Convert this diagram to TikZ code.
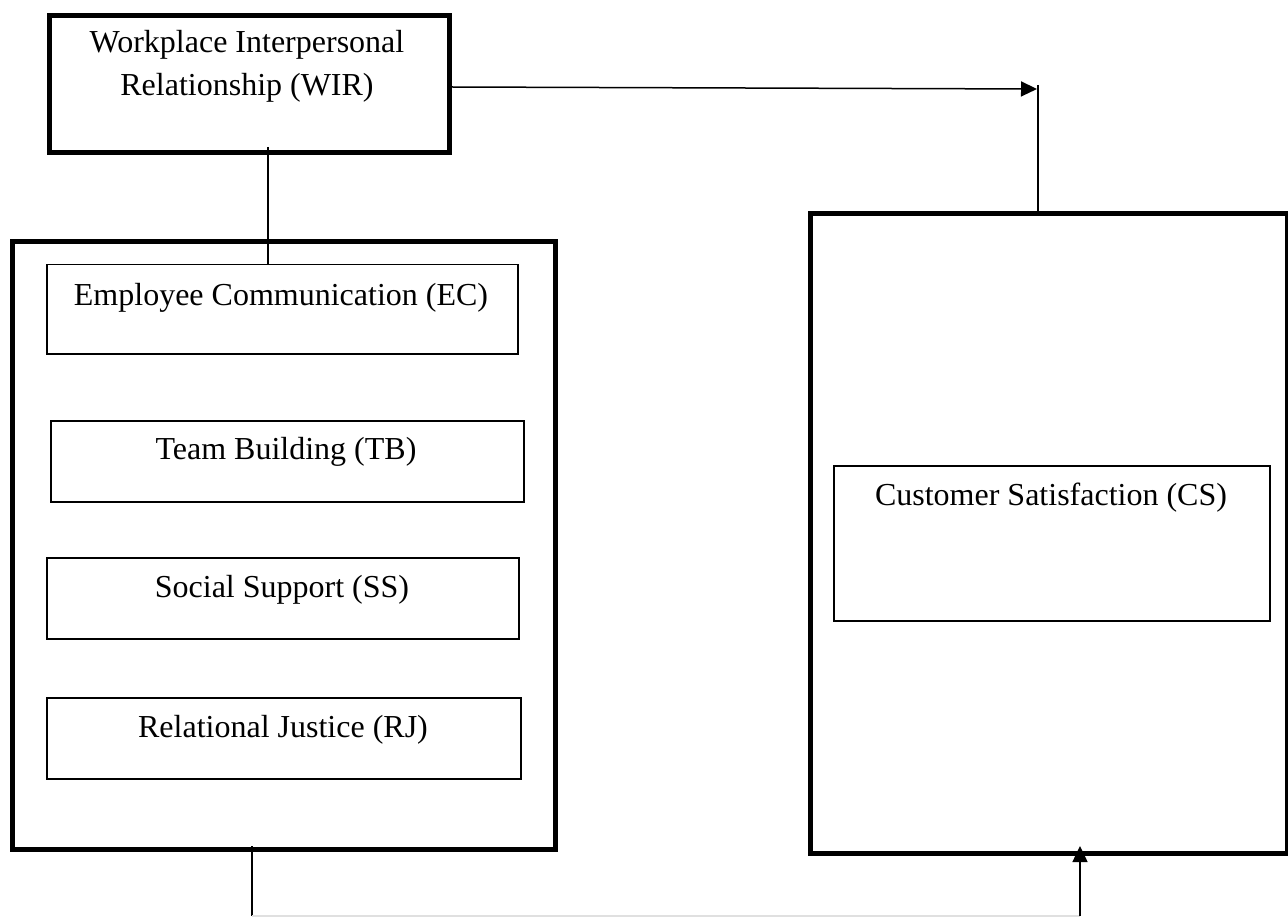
\documentclass[tikz,border=0pt]{standalone}
\usepackage{fontspec}
\setmainfont{Liberation Serif}
\usetikzlibrary{arrows.meta}
\begin{document}
\begin{tikzpicture}[x=1pt,y=-1pt,
  thickbox/.style={draw,line width=5pt,rectangle,inner sep=0pt,anchor=north west},
  thinbox/.style={draw,line width=1.5pt,rectangle,inner sep=0pt,anchor=north west},
  txt/.style={inner sep=0pt,font=\fontsize{32}{43}\selectfont,align=center},
  conn/.style={line width=1.5pt},
  arr/.style={line width=1.5pt,-{Triangle[length=16pt,width=15pt]}}]
\useasboundingbox (0,0) rectangle (1288,917);
% top box
\node[thickbox,minimum width=400pt,minimum height=137pt] (wir) at (47,13) {};
\node[txt] (wirt) at (247,66) {Workplace Interpersonal\\Relationship (WIR)};
% left big box
\node[thickbox,minimum width=543pt,minimum height=608pt] (left) at (10,239) {};
\node[thinbox,minimum width=471pt,minimum height=89pt] (ec) at (46,264) {};
\node[txt] (ect) at (281,298) {Employee Communication (EC)};
\node[thinbox,minimum width=473pt,minimum height=81pt] (tb) at (50,420) {};
\node[txt] (tbt) at (286,452) {Team Building (TB)};
\node[thinbox,minimum width=472pt,minimum height=81pt] (ss) at (46,557) {};
\node[txt] (sst) at (282,590) {Social Support (SS)};
\node[thinbox,minimum width=474pt,minimum height=81pt] (rj) at (46,697) {};
\node[txt] (rjt) at (283,730) {Relational Justice (RJ)};
% right big box
\node[thickbox,minimum width=477pt,minimum height=640pt] (cs) at (808,211) {};
\node[thinbox,minimum width=436pt,minimum height=155pt] (csi) at (833,465) {};
\node[txt] (csit) at (1051,498) {Customer Satisfaction (CS)};
% junction coordinates
\coordinate (wirout) at ([yshift=-3pt]wir.east);
\coordinate (jtop) at (1038,85);
\coordinate (jtip) at (1037,89);
\coordinate (cstop) at (1038,213);
\coordinate (wirdown) at (268,147);
\coordinate (ecin) at (268,264);
\coordinate (lbot) at (252,846);
\coordinate (lend) at (252,916);
\coordinate (rstart) at (1080,916);
\coordinate (csbot) at (1080,846);
% connectors
\draw[arr] (wirout) -- (jtip);
\draw[conn] (jtop) -- (cstop);
\draw[conn] (wirdown) -- (ecin);
\draw[conn] (lbot) -- (lend);
\draw[line width=1.5pt,black!12] (lend) -- (rstart);
\draw[arr] (rstart) -- (csbot);
\end{tikzpicture}
\end{document}
